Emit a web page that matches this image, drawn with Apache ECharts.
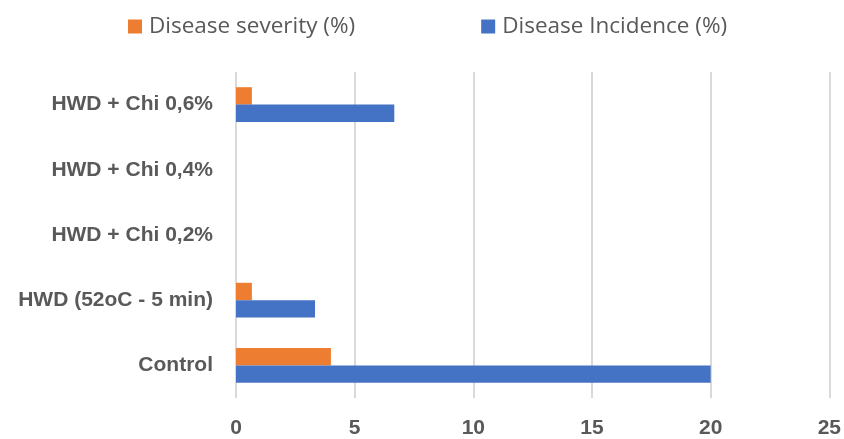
<!DOCTYPE html>
<html>
<head>
<meta charset="utf-8">
<script src="https://cdn.jsdelivr.net/npm/echarts@6/dist/echarts.min.js"></script>
<style>
  html, body { margin: 0; padding: 0; background: #fff; }
  #chart { width: 844px; height: 439px; }
</style>
</head>
<body>
<div id="chart"></div>
<script>
// Treatments, listed bottom to top as drawn on the category axis
const categories = ['Control', 'HWD (52oC - 5 min)', 'HWD + Chi 0,2%', 'HWD + Chi 0,4%', 'HWD + Chi 0,6%'];
const diseaseSeverity = [4, 0.67, 0, 0, 0.67];
const diseaseIncidence = [20, 3.33, 0, 0, 6.67];
const xTicks = { min: 0, max: 25, interval: 5 };

const textColor = '#595959';
const boldFont = 'Liberation Sans, Arial, sans-serif';
const legendFont = 'Open Sans, Liberation Sans, sans-serif';

const chart = echarts.init(document.getElementById('chart'));
chart.setOption({
  animation: false,
  legend: {
    top: 10,
    left: 123,
    itemWidth: 14,
    itemHeight: 14,
    itemGap: 126,
    icon: 'rect',
    data: ['Disease severity (%)', 'Disease Incidence (%)'],
    textStyle: { color: textColor, fontSize: 22.5, fontFamily: legendFont, padding: [0, 0, 0, 2] }
  },
  grid: { left: 236, right: 12, top: 72, bottom: 40 },
  xAxis: {
    type: 'value',
    min: xTicks.min,
    max: xTicks.max,
    interval: xTicks.interval,
    axisLine: { show: false },
    axisTick: { show: false },
    splitLine: { lineStyle: { color: '#d9d9d9', width: 2 } },
    axisLabel: { color: textColor, fontSize: 21, fontWeight: 'bold', fontFamily: boldFont, margin: 20 }
  },
  yAxis: {
    type: 'category',
    data: categories,
    axisLine: { show: false },
    axisTick: { show: false },
    axisLabel: { color: textColor, fontSize: 21, fontWeight: 'bold', fontFamily: boldFont, margin: 23 }
  },
  series: [
    {
      name: 'Disease severity (%)',
      type: 'bar',
      data: diseaseSeverity,
      barWidth: 17.4,
      barGap: '0%',
      itemStyle: { color: '#ED7D31' }
    },
    {
      name: 'Disease Incidence (%)',
      type: 'bar',
      data: diseaseIncidence,
      barWidth: 17.4,
      barGap: '0%',
      itemStyle: { color: '#4472C4' }
    }
  ]
});
</script>
</body>
</html>
